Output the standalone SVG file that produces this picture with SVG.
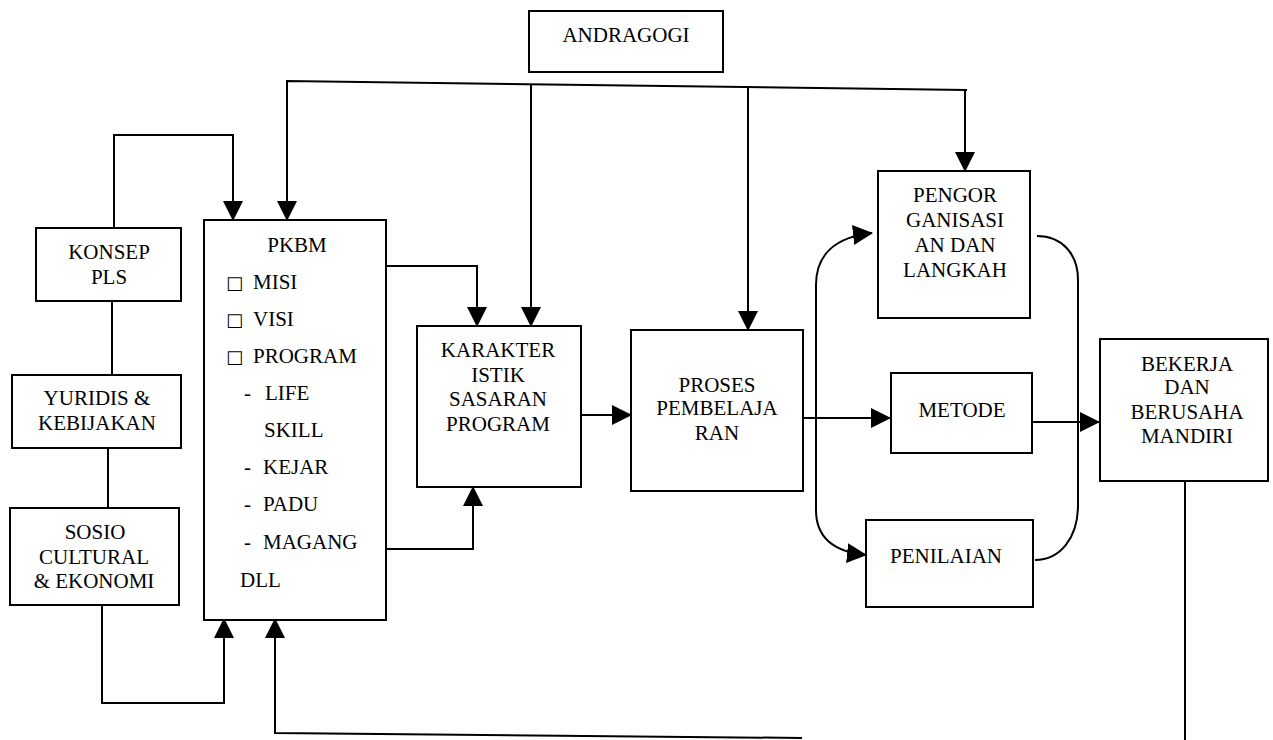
<svg xmlns="http://www.w3.org/2000/svg" width="1273" height="740" viewBox="0 0 1273 740">
<style>
.box{fill:#fff;stroke:#000;stroke-width:2}
.ln{fill:none;stroke:#000;stroke-width:2}
.t{font-family:"Liberation Serif","Times New Roman",serif;font-size:21px;fill:#000}
.c{text-anchor:middle}
.sq{font-family:"DejaVu Sans",sans-serif;font-size:18px;font-weight:bold}
</style>
<defs>
<marker id="ah" markerUnits="userSpaceOnUse" markerWidth="20" markerHeight="20" refX="19" refY="10" orient="auto">
<path d="M0,0 L20,10 L0,20 z" fill="#000"/>
</marker>
</defs>
<rect width="1273" height="740" fill="#fff"/>
<g id="connectors">
<path class="ln" d="M114,228 L114,135 L233,135 L233,220" marker-end="url(#ah)"/>
<path class="ln" d="M967,90 L287,81 L287,220" marker-end="url(#ah)"/>
<path class="ln" d="M531,84 L531,326" marker-end="url(#ah)"/>
<path class="ln" d="M748,87 L748,330" marker-end="url(#ah)"/>
<path class="ln" d="M965,90 L965,171" marker-end="url(#ah)"/>
<path class="ln" d="M387,266 L477,266 L477,326" marker-end="url(#ah)"/>
<path class="ln" d="M385,549 L473,549 L473,487" marker-end="url(#ah)"/>
<path class="ln" d="M112,301 L112,375"/>
<path class="ln" d="M108,448 L108,508"/>
<path class="ln" d="M102,605 L102,703 L224,703 L224,619" marker-end="url(#ah)"/>
<path class="ln" d="M1185,481 L1185,740"/>
<path class="ln" d="M802,738 L275,733 L275,619" marker-end="url(#ah)"/>
<path class="ln" d="M581,415 L631,415" marker-end="url(#ah)"/>
<path class="ln" d="M803,418 L890,418" marker-end="url(#ah)"/>
<path class="ln" d="M1032,422 L1099,422" marker-end="url(#ah)"/>
<path class="ln" d="M816,418 L816,285 C816,255 835,237 872,233" marker-end="url(#ah)"/>
<path class="ln" d="M816,418 L816,510 C816,538 835,552 866,555" marker-end="url(#ah)"/>
<path class="ln" d="M1037,236 C1062,236 1078,254 1078,280 L1078,505 C1078,538 1060,560 1035,560"/>
</g>
<g id="andragogi">
<rect class="box" x="529" y="11" width="194" height="61"/>
<text class="t c" x="626" y="42">ANDRAGOGI</text>
</g>
<g id="konsep">
<rect class="box" x="36" y="228" width="145" height="73"/>
<text class="t c" x="109" y="259">KONSEP</text>
<text class="t c" x="109" y="284">PLS</text>
</g>
<g id="yuridis">
<rect class="box" x="12" y="375" width="169" height="73"/>
<text class="t c" x="97" y="405">YURIDIS &amp;</text>
<text class="t c" x="97" y="430">KEBIJAKAN</text>
</g>
<g id="sosio">
<rect class="box" x="10" y="508" width="169" height="97"/>
<text class="t c" x="95" y="539">SOSIO</text>
<text class="t c" x="94" y="564">CULTURAL</text>
<text class="t c" x="94" y="588">&amp; EKONOMI</text>
</g>
<g id="pkbm">
<rect class="box" x="204" y="220" width="182" height="400"/>
<text class="t c" x="297" y="252">PKBM</text>
<text class="t"><tspan class="sq" x="226" y="289">□</tspan><tspan x="253" y="289">MISI</tspan></text>
<text class="t"><tspan class="sq" x="226" y="326">□</tspan><tspan x="253" y="326">VISI</tspan></text>
<text class="t"><tspan class="sq" x="226" y="363">□</tspan><tspan x="253" y="363">PROGRAM</tspan></text>
<text class="t"><tspan x="244" y="400">-</tspan><tspan x="265" y="400">LIFE</tspan></text>
<text class="t" x="264" y="437">SKILL</text>
<text class="t"><tspan x="244" y="474">-</tspan><tspan x="263" y="474">KEJAR</tspan></text>
<text class="t"><tspan x="244" y="511">-</tspan><tspan x="263" y="511">PADU</tspan></text>
<text class="t"><tspan x="244" y="549">-</tspan><tspan x="263" y="549">MAGANG</tspan></text>
<text class="t" x="240" y="587">DLL</text>
</g>
<g id="karakter">
<rect class="box" x="417" y="326" width="164" height="161"/>
<text class="t c" x="498" y="357">KARAKTER</text>
<text class="t c" x="498" y="382">ISTIK</text>
<text class="t c" x="498" y="406">SASARAN</text>
<text class="t c" x="498" y="431">PROGRAM</text>
</g>
<g id="proses">
<rect class="box" x="631" y="330" width="172" height="161"/>
<text class="t c" x="717" y="392">PROSES</text>
<text class="t c" x="717" y="415">PEMBELAJA</text>
<text class="t c" x="717" y="440">RAN</text>
</g>
<g id="pengorganisasian">
<rect class="box" x="878" y="171" width="152" height="147"/>
<text class="t c" x="955" y="202">PENGOR</text>
<text class="t c" x="955" y="227">GANISASI</text>
<text class="t c" x="955" y="252">AN DAN</text>
<text class="t c" x="955" y="277">LANGKAH</text>
</g>
<g id="metode">
<rect class="box" x="891" y="373" width="141" height="80"/>
<text class="t c" x="962" y="417">METODE</text>
</g>
<g id="penilaian">
<rect class="box" x="866" y="520" width="167" height="87"/>
<text class="t c" x="946" y="563">PENILAIAN</text>
</g>
<g id="bekerja">
<rect class="box" x="1100" y="339" width="168" height="142"/>
<text class="t c" x="1187" y="371">BEKERJA</text>
<text class="t c" x="1187" y="394">DAN</text>
<text class="t c" x="1187" y="419">BERUSAHA</text>
<text class="t c" x="1187" y="443">MANDIRI</text>
</g>
</svg>
